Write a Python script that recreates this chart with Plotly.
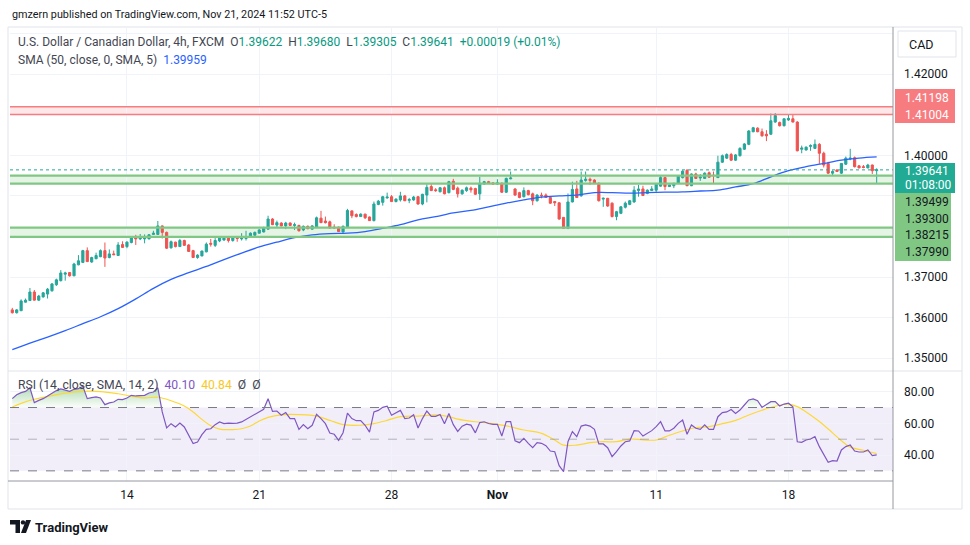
import plotly.graph_objects as go

W, H = 970, 545

# ---------------- data (USD/CAD 4h, FXCM) ----------------
opens = [
1.3619, 1.3612, 1.3617, 1.3638, 1.3642, 1.3663, 1.3643, 1.3651, 1.3658, 1.3666,
1.3681, 1.3691, 1.3707, 1.3711, 1.3703, 1.3730, 1.3736, 1.3765, 1.3737, 1.3745,
1.3750, 1.3765, 1.3748, 1.3757, 1.3753, 1.3780, 1.3775, 1.3785, 1.3798, 1.3794,
1.3794, 1.3794, 1.3805, 1.3805, 1.3826, 1.3810, 1.3772, 1.3786, 1.3775, 1.3790,
1.3779, 1.3765, 1.3748, 1.3752, 1.3762, 1.3783, 1.3778, 1.3789, 1.3791, 1.3798,
1.3790, 1.3797, 1.3794, 1.3795, 1.3798, 1.3803, 1.3808, 1.3811, 1.3818, 1.3843,
1.3828, 1.3833, 1.3826, 1.3833, 1.3827, 1.3827, 1.3816, 1.3825, 1.3818, 1.3823,
1.3845, 1.3838, 1.3836, 1.3823, 1.3823, 1.3811, 1.3824, 1.3863, 1.3854, 1.3849,
1.3855, 1.3848, 1.3839, 1.3879, 1.3884, 1.3895, 1.3898, 1.3886, 1.3890, 1.3900,
1.3889, 1.3890, 1.3898, 1.3880, 1.3902, 1.3923, 1.3915, 1.3910, 1.3920, 1.3908,
1.3936, 1.3919, 1.3905, 1.3913, 1.3919, 1.3918, 1.3905, 1.3929, 1.3935, 1.3932,
1.3929, 1.3931, 1.3909, 1.3942, 1.3917, 1.3908, 1.3898, 1.3913, 1.3905, 1.3888,
1.3902, 1.3902, 1.3896, 1.3886, 1.3883, 1.3847, 1.3820, 1.3885, 1.3917, 1.3900,
1.3938, 1.3941, 1.3939, 1.3931, 1.3892, 1.3894, 1.3882, 1.3849, 1.3857, 1.3872,
1.3879, 1.3885, 1.3913, 1.3917, 1.3906, 1.3913, 1.3914, 1.3924, 1.3945, 1.3923,
1.3925, 1.3931, 1.3945, 1.3963, 1.3925, 1.3954, 1.3944, 1.3943, 1.3957, 1.3951,
1.3945, 1.3983, 1.3993, 1.4002, 1.3988, 1.3999, 1.4015, 1.4027, 1.4058, 1.4067,
1.4058, 1.4052, 1.4052, 1.4082, 1.4081, 1.4073, 1.4087, 1.4090, 1.4082, 1.4015,
1.4013, 1.4022, 1.4017, 1.4027, 1.4005, 1.3980, 1.3956, 1.3964, 1.3956, 1.3978,
1.3991, 1.3994, 1.3974, 1.3972, 1.3969, 1.3976, 1.39622]

highs = [
1.3624, 1.3621, 1.3645, 1.3647, 1.3673, 1.3668, 1.3656, 1.3663, 1.3673, 1.3685,
1.3696, 1.3717, 1.3713, 1.3712, 1.3735, 1.3754, 1.3767, 1.3773, 1.3750, 1.3760,
1.3768, 1.3785, 1.3768, 1.3765, 1.3786, 1.3788, 1.3788, 1.3799, 1.3804, 1.3806,
1.3805, 1.3806, 1.3814, 1.3838, 1.3827, 1.3812, 1.3790, 1.3787, 1.3794, 1.3792,
1.3781, 1.3767, 1.3756, 1.3765, 1.3785, 1.3794, 1.3796, 1.3801, 1.3799, 1.3799,
1.3801, 1.3800, 1.3808, 1.3814, 1.3810, 1.3812, 1.3818, 1.3824, 1.3851, 1.3845,
1.3839, 1.3835, 1.3836, 1.3835, 1.3834, 1.3829, 1.3827, 1.3827, 1.3828, 1.3849,
1.3863, 1.3849, 1.3839, 1.3830, 1.3824, 1.3827, 1.3868, 1.3864, 1.3857, 1.3857,
1.3856, 1.3849, 1.3886, 1.3890, 1.3900, 1.3908, 1.3902, 1.3894, 1.3910, 1.3902,
1.3895, 1.3900, 1.3900, 1.3905, 1.3929, 1.3929, 1.3919, 1.3922, 1.3923, 1.3937,
1.3942, 1.3923, 1.3916, 1.3923, 1.3923, 1.3920, 1.3947, 1.3937, 1.3937, 1.3934,
1.3941, 1.3933, 1.3945, 1.3960, 1.3919, 1.3910, 1.3921, 1.3915, 1.3908, 1.3904,
1.3908, 1.3906, 1.3898, 1.3887, 1.3884, 1.3848, 1.3906, 1.3935, 1.3937, 1.3960,
1.3960, 1.3945, 1.3941, 1.3933, 1.3896, 1.3895, 1.3884, 1.3863, 1.3875, 1.3886,
1.3890, 1.3924, 1.3927, 1.3925, 1.3916, 1.3924, 1.3932, 1.3950, 1.3947, 1.3928,
1.3932, 1.3951, 1.3963, 1.3966, 1.3955, 1.3957, 1.3954, 1.3958, 1.3960, 1.3960,
1.3999, 1.4002, 1.4005, 1.4006, 1.4003, 1.4020, 1.4030, 1.4062, 1.4070, 1.4069,
1.4066, 1.4062, 1.4103, 1.4104, 1.4083, 1.4091, 1.4101, 1.4101, 1.4084, 1.4024,
1.4022, 1.4027, 1.4039, 1.4030, 1.4009, 1.3984, 1.3963, 1.3965, 1.3981, 1.3997,
1.4016, 1.3997, 1.3976, 1.3976, 1.3979, 1.3977, 1.39680]

lows = [
1.3610, 1.3610, 1.3616, 1.3637, 1.3641, 1.3642, 1.3641, 1.3649, 1.3647, 1.3664,
1.3678, 1.3689, 1.3691, 1.3701, 1.3702, 1.3729, 1.3735, 1.3737, 1.3735, 1.3744,
1.3749, 1.3725, 1.3746, 1.3754, 1.3752, 1.3772, 1.3771, 1.3783, 1.3779, 1.3791,
1.3783, 1.3793, 1.3804, 1.3804, 1.3795, 1.3769, 1.3770, 1.3773, 1.3774, 1.3777,
1.3762, 1.3747, 1.3745, 1.3751, 1.3761, 1.3775, 1.3774, 1.3786, 1.3790, 1.3785,
1.3787, 1.3787, 1.3790, 1.3790, 1.3797, 1.3801, 1.3807, 1.3810, 1.3817, 1.3828,
1.3823, 1.3825, 1.3818, 1.3826, 1.3816, 1.3812, 1.3813, 1.3818, 1.3817, 1.3821,
1.3833, 1.3832, 1.3819, 1.3820, 1.3811, 1.3809, 1.3823, 1.3845, 1.3847, 1.3848,
1.3843, 1.3838, 1.3837, 1.3877, 1.3876, 1.3893, 1.3885, 1.3884, 1.3886, 1.3887,
1.3882, 1.3888, 1.3878, 1.3877, 1.3884, 1.3912, 1.3910, 1.3909, 1.3904, 1.3906,
1.3914, 1.3896, 1.3903, 1.3910, 1.3908, 1.3902, 1.3890, 1.3928, 1.3929, 1.3927,
1.3927, 1.3907, 1.3907, 1.3941, 1.3900, 1.3894, 1.3896, 1.3901, 1.3877, 1.3886,
1.3894, 1.3895, 1.3880, 1.3875, 1.3841, 1.3819, 1.3818, 1.3884, 1.3895, 1.3898,
1.3935, 1.3927, 1.3929, 1.3886, 1.3873, 1.3873, 1.3847, 1.3840, 1.3855, 1.3869,
1.3877, 1.3883, 1.3898, 1.3900, 1.3904, 1.3912, 1.3909, 1.3923, 1.3914, 1.3922,
1.3919, 1.3929, 1.3943, 1.3924, 1.3924, 1.3942, 1.3937, 1.3942, 1.3945, 1.3929,
1.3944, 1.3981, 1.3991, 1.3986, 1.3986, 1.3997, 1.4013, 1.4025, 1.4057, 1.4057,
1.4046, 1.4035, 1.4050, 1.4080, 1.4071, 1.4071, 1.4085, 1.4081, 1.4010, 1.4005,
1.4012, 1.4011, 1.4016, 1.3979, 1.3970, 1.3954, 1.3951, 1.3959, 1.3954, 1.3976,
1.3988, 1.3970, 1.3968, 1.3968, 1.3968, 1.3954, 1.39305]

closes = [
1.3612, 1.3619, 1.3641, 1.3643, 1.3663, 1.3643, 1.3653, 1.3661, 1.3670, 1.3683,
1.3693, 1.3710, 1.3710, 1.3703, 1.3732, 1.3740, 1.3765, 1.3738, 1.3748, 1.3753,
1.3765, 1.3747, 1.3757, 1.3755, 1.3779, 1.3773, 1.3786, 1.3798, 1.3794, 1.3797,
1.3799, 1.3804, 1.3808, 1.3826, 1.3810, 1.3771, 1.3787, 1.3775, 1.3790, 1.3778,
1.3763, 1.3748, 1.3754, 1.3764, 1.3781, 1.3781, 1.3790, 1.3798, 1.3796, 1.3790,
1.3798, 1.3795, 1.3798, 1.3798, 1.3808, 1.3810, 1.3816, 1.3821, 1.3843, 1.3829,
1.3834, 1.3826, 1.3833, 1.3827, 1.3829, 1.3814, 1.3825, 1.3819, 1.3826, 1.3846,
1.3834, 1.3834, 1.3821, 1.3821, 1.3812, 1.3825, 1.3864, 1.3851, 1.3849, 1.3855,
1.3846, 1.3839, 1.3880, 1.3887, 1.3898, 1.3897, 1.3886, 1.3892, 1.3900, 1.3888,
1.3891, 1.3897, 1.3880, 1.3904, 1.3921, 1.3913, 1.3913, 1.3920, 1.3905, 1.3935,
1.3916, 1.3905, 1.3914, 1.3920, 1.3915, 1.3904, 1.3931, 1.3935, 1.3931, 1.3929,
1.3932, 1.3909, 1.3943, 1.3944, 1.3902, 1.3896, 1.3913, 1.3903, 1.3888, 1.3902,
1.3900, 1.3896, 1.3882, 1.3883, 1.3843, 1.3820, 1.3885, 1.3916, 1.3896, 1.3939,
1.3941, 1.3938, 1.3931, 1.3888, 1.3894, 1.3875, 1.3849, 1.3861, 1.3873, 1.3882,
1.3888, 1.3914, 1.3917, 1.3901, 1.3914, 1.3917, 1.3929, 1.3945, 1.3923, 1.3927,
1.3931, 1.3950, 1.3961, 1.3925, 1.3954, 1.3943, 1.3946, 1.3956, 1.3946, 1.3950,
1.3983, 1.3999, 1.4002, 1.3988, 1.4001, 1.4017, 1.4028, 1.4060, 1.4068, 1.4058,
1.4048, 1.4048, 1.4085, 1.4098, 1.4073, 1.4090, 1.4091, 1.4082, 1.4011, 1.4018,
1.4020, 1.4024, 1.4027, 1.4005, 1.3976, 1.3956, 1.3960, 1.3960, 1.3980, 1.3993,
1.3993, 1.3972, 1.3969, 1.3970, 1.3976, 1.3962, 1.39641]

# SMA(50) read at every 4th candle
sma_idx = [0, 4, 8, 12, 16, 20, 24, 28, 32, 36, 40, 44, 48, 52, 56, 60, 64, 68, 72, 76,
           80, 84, 88, 92, 96, 100, 104, 108, 112, 116, 120, 124, 128, 132, 136, 140,
           144, 148, 152, 156, 160, 164, 168, 172, 176, 180, 184, 188, 192, 196]
sma_val = [1.3521, 1.3537, 1.3552, 1.3568, 1.3585, 1.3602, 1.3622, 1.3646, 1.3672, 1.3694,
           1.3711, 1.3726, 1.3743, 1.3759, 1.3774, 1.3786, 1.3797, 1.3804, 1.3807, 1.3808,
           1.3812, 1.3820, 1.3829, 1.3841, 1.3849, 1.3858, 1.3864, 1.3873, 1.3882, 1.3890,
           1.3897, 1.3900, 1.3902, 1.3908, 1.3908, 1.3907, 1.3908, 1.3909, 1.3910, 1.3912,
           1.3914, 1.3922, 1.3930, 1.3947, 1.3962, 1.3972, 1.3980, 1.3988, 1.3993, 1.39959]

# RSI(14), one value per candle
rsi = [
75.6, 78.1, 79.4, 80.2, 82.5, 73.1, 74.5, 75.6, 77.3, 79.2,
80.7, 81.7, 80.9, 80.2, 81.5, 81.9, 83.4, 75.6, 76.2, 76.7,
76.0, 71.8, 72.9, 73.5, 75.2, 75.0, 76.0, 77.7, 77.3, 77.5,
77.7, 79.2, 79.8, 82.5, 67.2, 57.1, 59.8, 57.7, 60.2, 57.7,
52.4, 47.2, 48.2, 52.9, 56.2, 56.6, 59.2, 60.9, 59.8, 60.2,
60.0, 60.2, 60.9, 62.5, 64.6, 66.1, 67.4, 68.9, 75.6, 67.6,
67.8, 65.1, 66.8, 63.0, 63.0, 56.2, 59.2, 56.6, 58.8, 65.7,
63.0, 59.8, 53.9, 53.1, 49.3, 54.1, 66.5, 63.0, 61.7, 61.7,
58.8, 54.5, 67.2, 68.2, 70.1, 70.8, 65.1, 66.8, 68.2, 63.0,
63.4, 65.5, 57.1, 63.0, 67.8, 64.4, 64.4, 65.6, 59.7, 66.2,
59.2, 54.9, 58.2, 59.5, 58.9, 54.0, 60.5, 61.0, 59.9, 59.4,
59.4, 52.0, 61.1, 61.1, 49.0, 47.8, 50.5, 47.4, 44.6, 47.8,
47.4, 45.9, 42.5, 42.1, 33.3, 29.5, 48.4, 54.8, 51.6, 58.3,
59.0, 58.3, 56.2, 47.0, 47.0, 44.6, 39.0, 42.1, 45.7, 48.4,
48.9, 55.4, 55.2, 52.0, 53.7, 55.4, 57.9, 61.1, 55.2, 55.2,
56.9, 60.0, 62.1, 53.1, 59.0, 56.9, 56.2, 59.0, 56.2, 56.2,
64.2, 66.8, 67.2, 68.8, 66.3, 68.4, 71.6, 74.8, 75.4, 74.3,
70.1, 72.0, 73.7, 73.7, 71.0, 72.2, 72.7, 70.5, 48.4, 48.0,
49.5, 50.1, 51.6, 45.3, 40.0, 35.4, 36.4, 36.2, 43.2, 45.3,
46.3, 42.5, 41.9, 41.9, 43.2, 39.6, 40.1]

# RSI-based SMA(14)
rsi_ma_idx = [0, 2, 5, 9, 12, 16, 20, 24, 27, 30, 33, 36, 39, 41, 43, 45, 47, 50, 52, 54,
              56, 58, 61, 65, 69, 72, 75, 79, 82, 85, 88, 92, 96, 99, 101, 105, 108, 112,
              116, 120, 123, 125, 128, 131, 134, 137, 140, 143, 146, 149, 152, 155, 158,
              161, 164, 167, 170, 173, 176, 178, 180, 183, 186, 188, 190, 193, 196]
rsi_ma_val = [70.3, 72.6, 75.2, 77.5, 79.1, 80.2, 80.1, 78.7, 77.2, 76.1, 76.5, 74.3, 71.0,
              67.2, 62.5, 58.5, 56.4, 56.1, 56.6, 58.3, 61.5, 63.8, 65.4, 65.5, 64.6, 61.9,
              59.2, 58.8, 59.8, 61.9, 64.2, 64.6, 65.3, 64.2, 62.7, 61.0, 60.2, 58.4, 55.8,
              53.7, 49.5, 46.2, 46.3, 47.8, 48.4, 48.4, 50.1, 49.6, 49.5, 52.5, 55.2, 57.4,
              57.9, 59.8, 61.9, 65.3, 68.3, 70.8, 72.2, 70.6, 67.2, 61.2, 54.0, 49.0, 45.0,
              43.0, 40.84]

tick_idx = [26, 56, 86, 110, 146, 176]
tick_text = ["14", "21", "28", "<b>Nov</b>", "11", "18"]

price_ticks = [1.35, 1.36, 1.37, 1.38, 1.39, 1.40, 1.41, 1.42, 1.43]
price_tick_text = ["1.35000", "1.36000", "1.37000", "", "", "1.40000", "", "1.42000", ""]
rsi_ticks = [40, 60, 80]
rsi_tick_text = ["40.00", "60.00", "80.00"]

resist_zone = [1.41004, 1.41198]
support_zones = [[1.39300, 1.39499], [1.37990, 1.38215]]
last_price = 1.39641
rsi_levels = [30, 50, 70]

# ---------------- styling ----------------
UP, DOWN = "#26a69a", "#ef5350"
TEXT = "#131722"
GRID = "#f0f3fa"
FONT = "Roboto"

def px(x):
    return x / W

def py(y):
    return 1 - y / H

XD = [px(10), px(893)]
n = len(closes)
xs = list(range(n))

fig = go.Figure()

fig.add_trace(go.Candlestick(
    x=xs, open=opens, high=highs, low=lows, close=closes,
    increasing=dict(line=dict(color=UP, width=1), fillcolor=UP),
    decreasing=dict(line=dict(color=DOWN, width=1), fillcolor=DOWN),
    whiskerwidth=0, xaxis="x", yaxis="y", hoverinfo="skip", showlegend=False))

fig.add_trace(go.Scatter(x=sma_idx, y=sma_val, mode="lines",
                         line=dict(color="#2962ff", width=1.3, shape="spline"),
                         xaxis="x", yaxis="y", hoverinfo="skip", showlegend=False))

# overbought fill (RSI above 70)
fx, fy = [], []
for i in range(n):
    v = rsi[i]
    if i > 0:
        p = rsi[i - 1]
        if (p - 70) * (v - 70) < 0:
            t = (70 - p) / (v - p)
            fx.append(i - 1 + t)
            fy.append(70)
    fx.append(i)
    fy.append(max(v, 70))

fig.add_trace(go.Scatter(x=[fx[0], fx[-1]], y=[70, 70], mode="lines",
                         line=dict(width=0, color="rgba(0,0,0,0)"),
                         xaxis="x2", yaxis="y2", hoverinfo="skip", showlegend=False))
fig.add_trace(go.Scatter(x=fx, y=fy, mode="lines", line=dict(width=0, color="rgba(0,0,0,0)"),
                         fill="tonexty",
                         fillgradient=dict(type="vertical",
                                           colorscale=[[0, "rgba(76,175,80,0.02)"],
                                                       [1, "rgba(76,175,80,0.45)"]]),
                         xaxis="x2", yaxis="y2", hoverinfo="skip", showlegend=False))

fig.add_trace(go.Scatter(x=rsi_ma_idx, y=rsi_ma_val, mode="lines",
                         line=dict(color="#fdd835", width=1.2, shape="spline"),
                         xaxis="x2", yaxis="y2", hoverinfo="skip", showlegend=False))
fig.add_trace(go.Scatter(x=xs, y=rsi, mode="lines",
                         line=dict(color="#7e57c2", width=1.2),
                         xaxis="x2", yaxis="y2", hoverinfo="skip", showlegend=False))

shapes = []
# RSI band
shapes.append(dict(type="rect", xref="x2 domain", yref="y2", x0=0, x1=1,
                   y0=rsi_levels[0], y1=rsi_levels[2],
                   fillcolor="rgba(126,87,194,0.10)", line=dict(width=0), layer="below"))
for lv, col in [(rsi_levels[0], "#787b86"), (rsi_levels[2], "#787b86"),
                (rsi_levels[1], "rgba(120,123,134,0.55)")]:
    shapes.append(dict(type="line", xref="x2 domain", yref="y2", x0=0, x1=1, y0=lv, y1=lv,
                       line=dict(color=col, width=1, dash="dash")))

# zones
shapes.append(dict(type="rect", xref="x domain", yref="y", x0=0, x1=1,
                   y0=resist_zone[0], y1=resist_zone[1],
                   fillcolor="rgba(242,54,69,0.12)", line=dict(width=0), layer="below"))
for lv in resist_zone:
    shapes.append(dict(type="line", xref="x domain", yref="y", x0=0, x1=1, y0=lv, y1=lv,
                       line=dict(color="#f77c80", width=1.5)))
for z in support_zones:
    shapes.append(dict(type="rect", xref="x domain", yref="y", x0=0, x1=1, y0=z[0], y1=z[1],
                       fillcolor="rgba(76,175,80,0.14)", line=dict(width=0), layer="below"))
    for lv in z:
        shapes.append(dict(type="line", xref="x domain", yref="y", x0=0, x1=1, y0=lv, y1=lv,
                           line=dict(color="#81c784", width=2.2)))

# last price dotted line
shapes.append(dict(type="line", xref="x domain", yref="y", x0=0, x1=1,
                   y0=last_price, y1=last_price,
                   line=dict(color=UP, width=1, dash="dot")))

# frame & separators
shapes.append(dict(type="rect", xref="paper", yref="paper", x0=px(8), x1=px(962),
                   y0=py(509), y1=py(27), line=dict(color="#e0e3eb", width=1)))
shapes.append(dict(type="line", xref="paper", yref="paper", x0=px(8), x1=px(962),
                   y0=py(371), y1=py(371), line=dict(color="#e0e3eb", width=1)))
shapes.append(dict(type="line", xref="paper", yref="paper", x0=px(8), x1=px(893),
                   y0=py(481), y1=py(481), line=dict(color="#9598a1", width=1)))
shapes.append(dict(type="line", xref="paper", yref="paper", x0=px(893), x1=px(893),
                   y0=py(509), y1=py(27), line=dict(color="#9598a1", width=1)))

# CAD box
shapes.append(dict(type="rect", xref="paper", yref="paper", x0=px(898), x1=px(956),
                   y0=py(57), y1=py(31), line=dict(color="#e0e3eb", width=1),
                   fillcolor="white"))

# right-axis price badges
badges = [
    (895, 955, 89, 123, "#f77c80"),
    (895, 955, 163, 193, "#22ab94"),
    (895, 951, 193, 261, "#81c784"),
]
for x0, x1, y0, y1, c in badges:
    shapes.append(dict(type="rect", xref="paper", yref="paper", x0=px(x0), x1=px(x1),
                       y0=py(y1), y1=py(y0), fillcolor=c, line=dict(width=0)))

# TradingView logo mark
def path_px(pts):
    s = "M " + " L ".join(f"{px(a):.5f},{py(b):.5f}" for a, b in pts) + " Z"
    return s

shapes.append(dict(type="path", xref="paper", yref="paper",
                   path=path_px([(10, 520), (20, 520), (20, 533), (15.5, 533), (15.5, 524.5), (10, 524.5)]),
                   fillcolor=TEXT, line=dict(width=0)))
shapes.append(dict(type="circle", xref="paper", yref="paper",
                   x0=px(20.8), x1=px(25.2), y0=py(524.6), y1=py(520.2),
                   fillcolor=TEXT, line=dict(width=0)))
shapes.append(dict(type="path", xref="paper", yref="paper",
                   path=path_px([(26, 520), (31, 520), (26, 533), (21, 533)]),
                   fillcolor=TEXT, line=dict(width=0)))

annotations = []

def ann(x, y, text, size=12, color=TEXT, xanchor="left"):
    annotations.append(dict(xref="paper", yref="paper", x=px(x), y=py(y), text=text,
                            showarrow=False, xanchor=xanchor, yanchor="middle",
                            font=dict(family=FONT, size=size, color=color)))

def span(t, c):
    return f'<span style="color:{c}">{t}</span>'

NB = "\u00a0"
TEAL = "#089981"
ann(10, 14, "gmzern published on TradingView.com, Nov 21, 2024 11:52 UTC-5", size=10.8)
line1 = ("U.S. Dollar / Canadian Dollar, 4h, FXCM" + NB * 2 +
         "O" + span("1.39622", TEAL) + NB * 2 + "H" + span("1.39680", TEAL) + NB * 2 +
         "L" + span("1.39305", TEAL) + NB * 2 + "C" + span("1.39641", TEAL) + NB * 2 +
         span("+0.00019 (+0.01%)", TEAL))
ann(16, 42, line1, size=12, color="#434651")
ann(16, 60, "SMA (50, close, 0, SMA, 5)" + NB * 2 + span("1.39959", "#2962ff"),
    size=12, color="#434651")
ann(16, 385, "RSI (14, close, SMA, 14, 2)" + NB * 2 + span("40.10", "#7e57c2") + NB * 2 +
    span("40.84", "#f7c928") + NB * 2 + "Ø" + NB * 2 + "Ø", size=12.2, color="#434651")

ann(907, 44, "CAD", size=12.5)
ann(903, 98, "1.41198", size=12, color="white")
ann(903, 115, "1.41004", size=12, color="white")
ann(903, 171, "1.39641", size=12, color="white")
ann(903, 185, "01:08:00", size=12, color="white")
ann(903, 202, "1.39499", size=12)
ann(903, 219, "1.39300", size=12)
ann(903, 235, "1.38215", size=12)
ann(903, 252, "1.37990", size=12)
annotations.append(dict(xref="paper", yref="paper", x=px(33), y=py(527),
                        text="<b>TradingView</b>", showarrow=False, xanchor="left",
                        yanchor="middle", font=dict(family=FONT, size=13, color=TEXT)))

xr = [-0.52, 199.7]
fig.update_layout(
    width=W, height=H, margin=dict(l=0, r=0, t=0, b=0),
    paper_bgcolor="white", plot_bgcolor="white",
    hovermode=False, showlegend=False, boxgap=0.3,
    font=dict(family=FONT, color=TEXT, size=12),
    xaxis=dict(domain=XD, range=xr, anchor="y", showticklabels=False,
               tickvals=tick_idx, showgrid=True, gridcolor=GRID, zeroline=False,
               showline=False, rangeslider=dict(visible=False), fixedrange=True),
    yaxis=dict(domain=[py(370), py(28)], range=[1.34708, 1.43138], anchor="x",
               side="right", tickvals=price_ticks, ticktext=price_tick_text,
               showgrid=True, gridcolor=GRID, zeroline=False, showline=False,
               ticks="", ticklabelstandoff=10, tickfont=dict(size=12, color=TEXT),
               fixedrange=True),
    xaxis2=dict(domain=XD, range=xr, anchor="y2", tickvals=tick_idx, ticktext=tick_text,
                showgrid=True, gridcolor=GRID, zeroline=False, showline=False,
                ticks="outside", ticklen=3, tickcolor="rgba(0,0,0,0)",
                tickfont=dict(size=12, color=TEXT), fixedrange=True),
    yaxis2=dict(domain=[py(481), py(372)], range=[23.59, 92.44], anchor="x2",
                side="right", tickvals=rsi_ticks, ticktext=rsi_tick_text,
                showgrid=True, gridcolor=GRID, zeroline=False, showline=False,
                ticks="", ticklabelstandoff=10, tickfont=dict(size=12, color=TEXT),
                fixedrange=True),
    shapes=shapes, annotations=annotations,
)

fig.write_html("out.html", config={"displayModeBar": False, "staticPlot": True},
               post_script="document.body.style.margin='0';")
